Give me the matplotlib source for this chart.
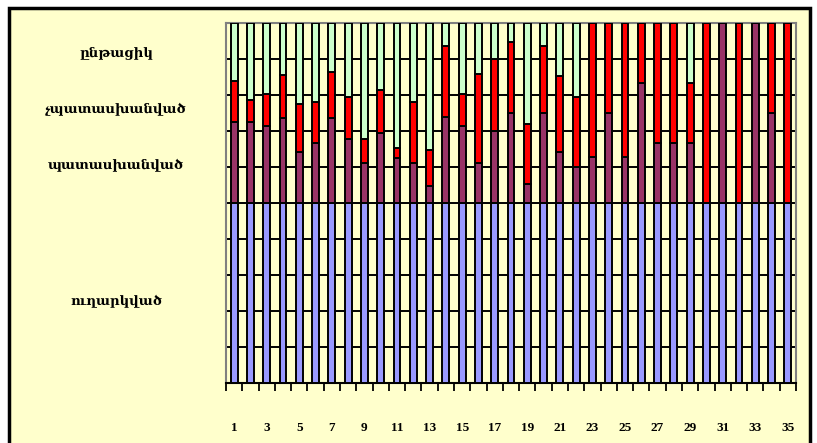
import matplotlib.pyplot as plt
from matplotlib.patches import Rectangle
import numpy as np

# shares of each status per item, percent of the whole column
items = list(range(1, 36))
sent = [50] * 35
answered = [22.4, 22.5, 21.4, 23.5, 14.2, 16.7, 23.5, 17.9, 11.1, 19.4,
            12.5, 11.1, 4.8, 24.0, 21.4, 11.1, 19.9, 25.1, 5.4, 25.0,
            14.2, 10.1, 12.7, 25.0, 12.7, 33.4, 16.7, 16.7, 16.7, 0.0,
            50.0, 0.0, 50.0, 25.0, 0.0]
unanswered = [11.6, 6.2, 8.8, 12.0, 13.4, 11.4, 13.0, 11.6, 6.8, 12.0,
              2.7, 17.0, 9.8, 19.7, 8.8, 24.8, 20.0, 19.6, 16.5, 18.7,
              21.2, 19.4, 37.3, 25.0, 37.3, 16.6, 33.3, 33.3, 16.7, 50.0,
              0.0, 50.0, 0.0, 25.0, 50.0]
current = [100 - s - a - u for s, a, u in zip(sent, answered, unanswered)]

labels = ['ուղարկված', 'պատասխանված', 'չպատասխանված', 'ընթացիկ']
label_y = [302, 166, 110, 53]
colors = ['#9999ff', '#993366', '#ff0000', '#ccffcc']

fig = plt.figure(figsize=(8.17, 4.43), dpi=100)
fig.patch.set_facecolor('white')

# yellow chart frame
W, H = 817, 443
fig.patches.append(Rectangle((9 / W, -0.05), (810 - 9) / W, (443 - 8) / H + 0.05,
                             transform=fig.transFigure, facecolor='#ffffcc',
                             edgecolor='black', linewidth=2.5, zorder=-5))

ax = fig.add_axes([226 / W, 1 - 383 / H, (796 - 226) / W, (383 - 23) / H])
ax.set_facecolor('#ffffcc')

x = np.array(items)
bottom = np.zeros(35)
for vals, c in zip([sent, answered, unanswered, current], colors):
    vals = np.array(vals, dtype=float)
    ax.bar(x, vals, width=0.42, bottom=bottom, color=c, edgecolor='black',
           linewidth=1.4, zorder=3)
    bottom += vals

ax.set_xlim(0.5, 35.5)
ax.set_ylim(0, 100)
ax.set_yticks(np.arange(0, 101, 10))
ax.yaxis.grid(True, color='black', linewidth=1.4, zorder=1)
ax.tick_params(axis='y', length=0, labelleft=False)

ax.set_xticks(x[::2])
ax.set_xticklabels([str(i) for i in items[::2]], fontsize=9.5,
                   fontweight='bold', family='Liberation Serif')
ax.set_xticks(np.arange(0.5, 36, 1), minor=True)
ax.tick_params(axis='x', which='major', length=0, pad=28)
ax.tick_params(axis='x', which='minor', length=6, width=1.3, color='black')

for side in ['left', 'top', 'right']:
    ax.spines[side].set_color('#808080')
    ax.spines[side].set_linewidth(1.5)
ax.spines['bottom'].set_color('black')
ax.spines['bottom'].set_linewidth(1.5)

for t, yy in zip(labels, label_y):
    fig.text(116 / W, 1 - yy / H, t, ha='center', va='center', fontsize=9.5,
             fontweight='bold', family=['DejaVu Serif', 'DejaVu Sans'])

fig.savefig('out.png', dpi=100)
